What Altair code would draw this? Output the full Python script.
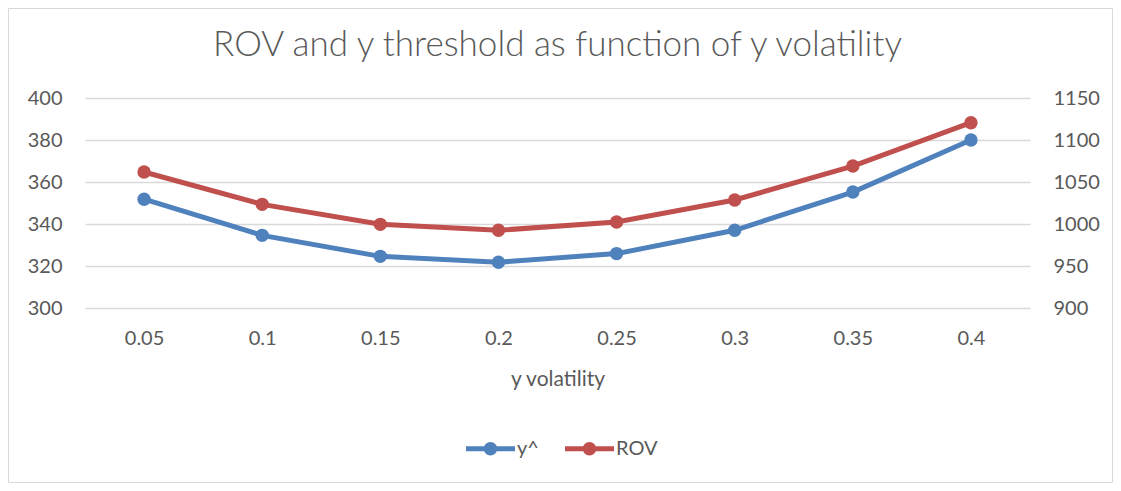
import altair as alt
import pandas as pd

x_labels = ["0.05", "0.1", "0.15", "0.2", "0.25", "0.3", "0.35", "0.4"]
y_hat = [351.8, 334.6, 324.6, 321.8, 325.9, 337.0, 355.2, 380.0]
rov = [1061.9, 1023.4, 999.6, 992.5, 1002.4, 1028.6, 1069.0, 1120.6]
series_names = ["y^", "ROV"]
colors = ["#4f81bd", "#c0504d"]
left_ticks = [300, 320, 340, 360, 380, 400]
right_ticks = [900, 950, 1000, 1050, 1100, 1150]

df = pd.DataFrame({
    "vol": x_labels * 2,
    "series": [series_names[0]] * len(x_labels) + [series_names[1]] * len(x_labels),
    "value": y_hat + rov,
})

FONT = "Lato"
GRAY = "#595959"
LBL = 20

legend_path = ("M-2,-0.2 H2 V0.2 H-2 Z "
               "M0.55,0 A0.55,0.55 0 1,1 -0.55,0 A0.55,0.55 0 1,1 0.55,0 Z")

color = alt.Color(
    "series:N",
    scale=alt.Scale(domain=series_names, range=colors),
    legend=alt.Legend(
        title=None, orient="none", direction="horizontal",
        legendX=393, legendY=338,
        symbolType=legend_path, symbolSize=600, symbolStrokeWidth=0,
        labelFont=FONT, labelFontSize=LBL, labelColor=GRAY,
        labelOffset=14, columnPadding=26,
    ),
)

x = alt.X(
    "vol:N", sort=x_labels,
    axis=alt.Axis(title="y volatility", labelAngle=0, domain=False, ticks=False,
                  labelPadding=20, titlePadding=20, labelFont=FONT, labelFontSize=LBL,
                  labelColor=GRAY, titleFont=FONT, titleFontSize=21,
                  titleColor=GRAY, titleFontWeight="normal", grid=False),
)

point_def = alt.OverlayMarkDef(size=180, filled=True, opacity=1)

left = alt.Chart(df).transform_filter(
    alt.datum.series == series_names[0]
).mark_line(strokeWidth=5, point=point_def).encode(
    x=x,
    y=alt.Y("value:Q", scale=alt.Scale(domain=[300, 400], nice=False, zero=False),
            axis=alt.Axis(title=None, values=left_ticks, domain=False, ticks=False,
                          labelPadding=23, labelFont=FONT, labelFontSize=LBL,
                          labelColor=GRAY, gridColor="#d9d9d9", gridWidth=1.5)),
    color=color,
)

right = alt.Chart(df).transform_filter(
    alt.datum.series == series_names[1]
).mark_line(strokeWidth=5, point=point_def).encode(
    x=x,
    y=alt.Y("value:Q", scale=alt.Scale(domain=[900, 1150], nice=False, zero=False),
            axis=alt.Axis(title=None, values=right_ticks, orient="right", domain=False,
                          ticks=False, grid=False, labelPadding=23, labelFont=FONT,
                          labelFontSize=LBL, labelColor=GRAY, format="d")),
    color=color,
)

border = alt.Chart(pd.DataFrame({"a": [0]})).mark_rect(
    fill=None, stroke="#d9d9d9", strokeWidth=1
).encode(
    x=alt.value(-76.5), x2=alt.value(945 + 82.5),
    y=alt.value(-89.5), y2=alt.value(210 + 174.5),
)

chart = alt.layer(border, left, right).resolve_scale(y="independent").properties(
    width=945, height=210,
    autosize=alt.AutoSizeParams(type="none"),
    padding={"left": 77, "top": 90, "right": 83, "bottom": 175},
    title=alt.TitleParams("ROV and y threshold as function of y volatility",
                          font=FONT, fontSize=35, fontWeight=300, color=GRAY,
                          offset=0, dy=83, baseline="alphabetic", anchor="middle"),
).configure_view(stroke=None)

chart.save("out.html", embed_options={"renderer": "svg", "actions": False})
